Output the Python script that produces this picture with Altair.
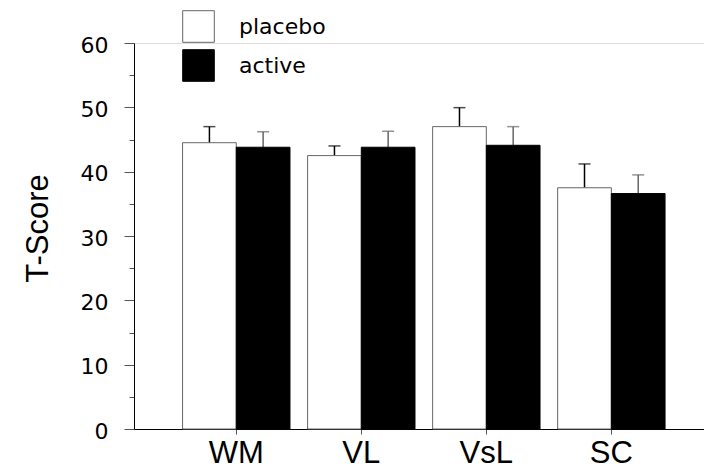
import altair as alt
import pandas as pd

categories = ["WM", "VL", "VsL", "SC"]
groups = ["placebo", "active"]
placebo = [44.5, 42.5, 47.0, 37.5]
active = [43.8, 43.8, 44.1, 36.6]
placebo_err = [2.5, 1.5, 2.95, 3.7]
active_err = [2.4, 2.5, 2.9, 2.9]
major_ticks = [0, 10, 20, 30, 40, 50, 60]
minor_ticks = [5, 15, 25, 35, 45, 55]

rows = []
for i, c in enumerate(categories):
    rows.append({"cat": c, "group": "placebo", "value": placebo[i], "err": placebo_err[i]})
    rows.append({"cat": c, "group": "active", "value": active[i], "err": active_err[i]})
df = pd.DataFrame(rows)
df["top"] = df["value"] + df["err"]

xscale = alt.Scale(domain=categories, paddingInner=0.141, paddingOuter=0.35, align=0.555, round=False)
xoff = alt.Scale(domain=groups, paddingInner=0, paddingOuter=0)
yscale = alt.Scale(domain=[0, 60], nice=False, zero=True)

x_enc = alt.X("cat:N", scale=xscale, sort=categories, title=None,
              axis=alt.Axis(labelFont="Liberation Sans", labelFontSize=31, labelColor="black",
                            labelAngle=0, labelAlign="center", labelPadding=4, tickSize=5,
                            tickColor="#555", domainColor="black", domainWidth=1,
                            labelBaseline="top"))
xo_enc = alt.XOffset("group:N", scale=xoff, sort=groups)

major_axis = alt.Axis(
    values=major_ticks, orient="left",
    tickSize=10, tickColor="#555", domainColor="black", grid=False,
    labelFont="DejaVu Sans", labelFontSize=22, labelColor="black", labelPadding=16,
    labelOffset=2,
    title="T-Score", titleFont="Liberation Sans", titleFontSize=31, titleFontWeight="normal",
    titleColor="black", titleAngle=270, titleBaseline="alphabetic", titleX=-87, titleY=185,
)
minor_axis = alt.Axis(
    values=minor_ticks, orient="left", tickSize=5, tickColor="#555",
    labels=False, domain=False, grid=False, title=None,
)

legend = alt.Legend(title=None, orient="none", legendX=48, legendY=-33,
                    symbolType="square", symbolSize=1000, symbolStrokeWidth=1,
                    labelFont="DejaVu Sans", labelFontSize=22, labelColor="black",
                    labelOffset=24, rowPadding=2, symbolOpacity=1)

bars = alt.Chart(df).mark_bar(strokeWidth=1).encode(
    x=x_enc,
    xOffset=xo_enc,
    y=alt.Y("value:Q", scale=yscale, axis=major_axis),
    fill=alt.Fill("group:N", sort=groups,
                  scale=alt.Scale(domain=groups, range=["white", "black"]), legend=legend),
    stroke=alt.Stroke("group:N", sort=groups,
                      scale=alt.Scale(domain=groups, range=["#666666", "black"]), legend=legend),
)

err_color = alt.Color("group:N", sort=groups,
                      scale=alt.Scale(domain=groups, range=["black", "#666666"]), legend=None)

rules = alt.Chart(df).mark_rule(strokeWidth=1.5).encode(
    x=alt.X("cat:N", scale=xscale, sort=categories),
    xOffset=xo_enc,
    y=alt.Y("value:Q", scale=yscale, axis=minor_axis),
    y2="top:Q",
    color=err_color,
)

caps = alt.Chart(df).mark_tick(size=12, thickness=1.5).encode(
    x=alt.X("cat:N", scale=xscale, sort=categories),
    xOffset=xo_enc,
    y=alt.Y("top:Q", scale=yscale, axis=None),
    color=err_color,
)

chart = alt.layer(rules, caps, bars).resolve_scale(color="independent").resolve_axis(
    y="independent"
).properties(
    width=570, height=386,
    autosize=alt.AutoSizeParams(type="none"),
    padding={"left": 134, "top": 43, "right": 0, "bottom": 42},
).configure_view(stroke=None).configure(background="white")

chart.save("out.html", embed_options={"renderer": "svg", "actions": False})
